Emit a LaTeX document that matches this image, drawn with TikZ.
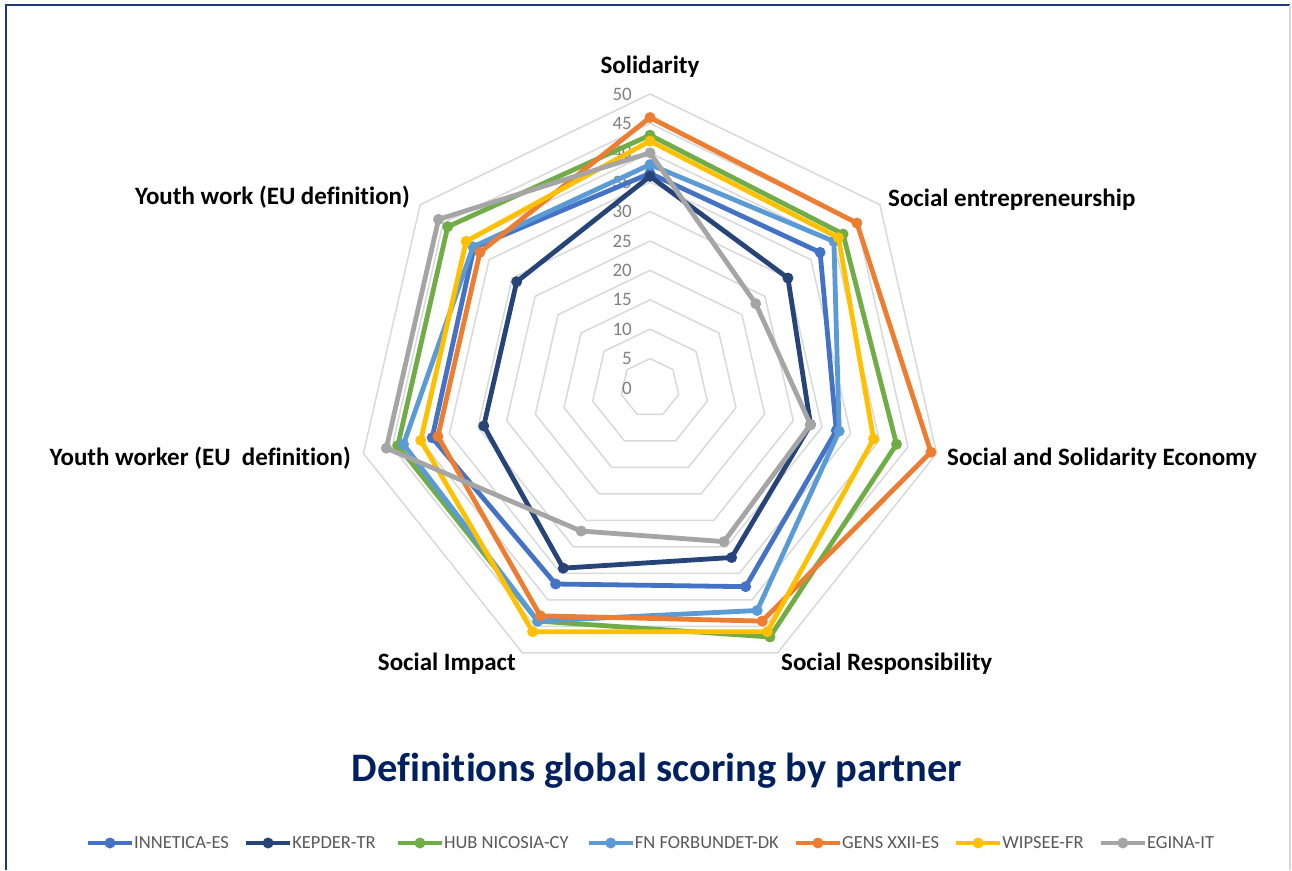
\documentclass[tikz,border=0pt]{standalone}
\usepackage{fontspec}
\setmainfont{Carlito}[Ligatures=NoCommon]
\usetikzlibrary{positioning}

\definecolor{innetica}{HTML}{4472C4}
\definecolor{kepder}{HTML}{264478}
\definecolor{hub}{HTML}{70AD47}
\definecolor{forbundet}{HTML}{5B9BD5}
\definecolor{gens}{HTML}{ED7D31}
\definecolor{wipsee}{HTML}{FFC000}
\definecolor{egina}{HTML}{A5A5A5}
\definecolor{gridgray}{HTML}{D9D9D9}
\definecolor{tickgray}{HTML}{808080}
\definecolor{leggray}{HTML}{595959}
\definecolor{titlenavy}{HTML}{002060}
\definecolor{framenavy}{HTML}{1F3A7A}

\tikzset{
	gridring/.style={draw=gridgray, line width=1.5pt, line join=round},
	partnerline/.style={line width=4.8pt, line join=round},
	axislabel/.style={font=\fontsize{25}{29}\selectfont\bfseries, inner sep=0pt},
	ticklabel/.style={text=tickgray, font=\fontsize{19}{21}\selectfont, anchor=east, inner sep=0pt},
	legtext/.style={text=leggray, font=\fontsize{18.5}{20}\selectfont, anchor=west, inner sep=0pt},
}
\newcommand\rs{5.88}

\begin{document}
\begin{tikzpicture}[x=1pt, y=-1pt]
		\useasboundingbox (0,0) rectangle (1292,870);
		\fill[white] (0,0) rectangle (1292,870);
		% frame
		\draw[framenavy, line width=2pt] (6,870) -- (6,5) -- (1290,5);
		\draw[gridgray, line width=2pt] (1290,5) -- (1290,870);

		\begin{scope}[shift={(650,388)}]
			% rings
			\foreach \v in {5,10,...,50}
				\draw[gridring] (-90:\v*\rs) \foreach \k in {1,...,6} {-- (\k*360/7-90:\v*\rs)} -- cycle;
			\foreach \v in {0,5,...,50}
				\node[ticklabel] (t\v) at (-18,-\v*\rs) {\v};
			% partners
			\foreach \col/\a/\b/\c/\d/\e/\f/\g in {
				innetica/36.5/37/32.5/37.5/37/38/38.3,
				kepder/36/30/28/32/34/29/29,
				hub/43/42/43/47/44/44/44,
				forbundet/38/40/33/42/44/43/38.5,
				gens/46/45/49/44/43/37/37,
				wipsee/42/41/39/46/46/40/40,
				egina/40/23/28/29/27/46/46}
			{
				\draw[partnerline, \col] (-90:\a*\rs) -- (360/7-90:\b*\rs) -- (720/7-90:\c*\rs) -- (1080/7-90:\d*\rs)
					-- (1440/7-90:\e*\rs) -- (1800/7-90:\f*\rs) -- (2160/7-90:\g*\rs) -- cycle;
				\foreach \p [count=\k from 0] in {\a,\b,\c,\d,\e,\f,\g}
					\fill[\col] (\k*360/7-90:\p*\rs) circle (5.5pt);
			}
		\end{scope}

		% axis labels
		\node[axislabel, anchor=base] (sol) at (650,73) {Solidarity};
		\node[axislabel, anchor=base west] (sent) at (888,206) {Social entrepreneurship};
		\node[axislabel, anchor=base west] (sse) at (947,465) {Social and Solidarity Economy};
		\node[axislabel, anchor=base west] (sresp) at (781,670) {Social Responsibility};
		\node[axislabel, anchor=base east] (simp) at (516,670) {Social Impact};
		\node[axislabel, anchor=base east] (ywkr) at (351,465) {Youth worker (EU\ \ definition)};
		\node[axislabel, anchor=base east] (ywk) at (410,204) {Youth work (EU definition)};

		% title
		\node[text=titlenavy, font=\fontsize{40.5}{46}\selectfont\bfseries, anchor=base, inner sep=0pt] (title) at (657,781)
			{Definitions global scoring by partner};

		% legend
		\node[legtext] (leg1) at (134,843) {INNETICA-ES};
		\node[legtext, right=63pt of leg1] (leg2) {KEPDER-TR};
		\node[legtext, right=68pt of leg2] (leg3) {HUB NICOSIA-CY};
		\node[legtext, right=66pt of leg3] (leg4) {FN FORBUNDET-DK};
		\node[legtext, right=63pt of leg4] (leg5) {GENS XXII-ES};
		\node[legtext, right=63pt of leg5] (leg6) {WIPSEE-FR};
		\node[legtext, right=63pt of leg6] (leg7) {EGINA-IT};
		\foreach \i/\col in {1/innetica,2/kepder,3/hub,4/forbundet,5/gens,6/wipsee,7/egina}
		{
			\draw[\col, line width=4.5pt] ([xshift=-46pt]leg\i.west) -- ([xshift=-2pt]leg\i.west);
			\fill[\col] ([xshift=-24pt]leg\i.west) circle (5.5pt);
		}
	\end{tikzpicture}
\end{document}
